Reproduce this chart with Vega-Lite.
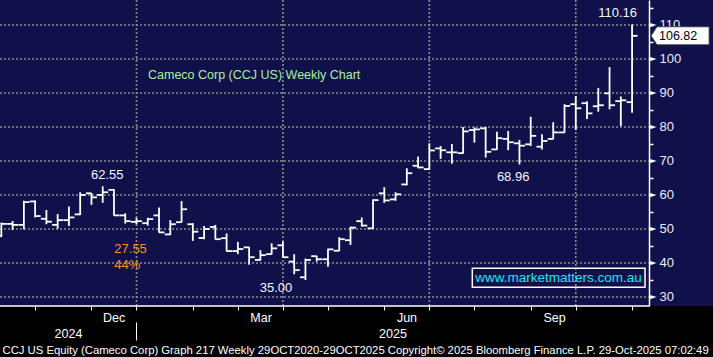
{
  "$schema": "https://vega.github.io/schema/vega-lite/v6.json",
  "width": 713,
  "height": 306,
  "autosize": {"type": "none"},
  "padding": {"left": 0, "top": 0, "right": 0, "bottom": 51},
  "background": "#000000",
  "view": {"fill": "#10104a", "stroke": null},
  "config": {"font": "Liberation Sans", "axis": {"labelFont": "Liberation Sans", "titleFont": "Liberation Sans"}},
  "datasets": {
    "ohlc": [
      {"d": "2024-10-04", "o": 48.0, "h": 51.9, "l": 47.6, "c": 51.5},
      {"d": "2024-10-11", "o": 51.5, "h": 52.35, "l": 49.7, "c": 51.2},
      {"d": "2024-10-18", "o": 51.2, "h": 58.3, "l": 49.9, "c": 57.9},
      {"d": "2024-10-25", "o": 58.1, "h": 58.4, "l": 53.4, "c": 53.8},
      {"d": "2024-11-01", "o": 53.0, "h": 55.6, "l": 51.4, "c": 52.15},
      {"d": "2024-11-08", "o": 51.2, "h": 54.4, "l": 50.1, "c": 52.6},
      {"d": "2024-11-15", "o": 52.6, "h": 56.6, "l": 50.9, "c": 53.4},
      {"d": "2024-11-22", "o": 54.3, "h": 60.8, "l": 54.1, "c": 60.0},
      {"d": "2024-11-29", "o": 60.5, "h": 60.6, "l": 57.1, "c": 59.3},
      {"d": "2024-12-06", "o": 60.0, "h": 62.55, "l": 57.7, "c": 60.8},
      {"d": "2024-12-13", "o": 61.5, "h": 61.7, "l": 53.9, "c": 54.0},
      {"d": "2024-12-20", "o": 54.0, "h": 54.6, "l": 51.6, "c": 52.3},
      {"d": "2024-12-27", "o": 52.1, "h": 53.3, "l": 51.4, "c": 52.3},
      {"d": "2025-01-03", "o": 51.7, "h": 53.3, "l": 51.0, "c": 52.9},
      {"d": "2025-01-10", "o": 54.0, "h": 56.3, "l": 48.9, "c": 49.0},
      {"d": "2025-01-17", "o": 48.4, "h": 52.6, "l": 48.2, "c": 51.4},
      {"d": "2025-01-24", "o": 52.0, "h": 58.2, "l": 51.9, "c": 55.8},
      {"d": "2025-01-31", "o": 51.4, "h": 51.7, "l": 46.5, "c": 49.2},
      {"d": "2025-02-07", "o": 47.35, "h": 50.9, "l": 47.0, "c": 50.0},
      {"d": "2025-02-14", "o": 50.6, "h": 51.2, "l": 46.9, "c": 47.0},
      {"d": "2025-02-21", "o": 47.3, "h": 48.7, "l": 43.4, "c": 43.5},
      {"d": "2025-02-28", "o": 43.5, "h": 46.2, "l": 42.6, "c": 44.1},
      {"d": "2025-03-07", "o": 44.6, "h": 44.7, "l": 39.5, "c": 41.7},
      {"d": "2025-03-14", "o": 40.9, "h": 43.8, "l": 40.7, "c": 42.3},
      {"d": "2025-03-21", "o": 42.6, "h": 45.8, "l": 42.5, "c": 44.3},
      {"d": "2025-03-28", "o": 45.2, "h": 46.3, "l": 41.6, "c": 41.7},
      {"d": "2025-04-04", "o": 40.4, "h": 42.6, "l": 36.7, "c": 37.9},
      {"d": "2025-04-11", "o": 35.8, "h": 41.3, "l": 35.0, "c": 40.9},
      {"d": "2025-04-18", "o": 42.0, "h": 42.1, "l": 40.4, "c": 41.1},
      {"d": "2025-04-25", "o": 41.1, "h": 44.2, "l": 38.9, "c": 44.0},
      {"d": "2025-05-02", "o": 43.6, "h": 47.6, "l": 43.5, "c": 47.0},
      {"d": "2025-05-09", "o": 46.7, "h": 50.7, "l": 45.3, "c": 50.4},
      {"d": "2025-05-16", "o": 52.3, "h": 53.4, "l": 50.7, "c": 51.0},
      {"d": "2025-05-23", "o": 50.2, "h": 58.7, "l": 50.0, "c": 58.5},
      {"d": "2025-05-30", "o": 60.5, "h": 62.3, "l": 57.7, "c": 58.4},
      {"d": "2025-06-06", "o": 58.7, "h": 60.8, "l": 58.3, "c": 60.2},
      {"d": "2025-06-13", "o": 63.1, "h": 67.85, "l": 62.85, "c": 66.4},
      {"d": "2025-06-20", "o": 68.6, "h": 71.3, "l": 67.85, "c": 68.1},
      {"d": "2025-06-27", "o": 67.6, "h": 75.2, "l": 67.5, "c": 73.1},
      {"d": "2025-07-04", "o": 73.7, "h": 74.4, "l": 70.6, "c": 73.15},
      {"d": "2025-07-11", "o": 72.55, "h": 75.0, "l": 69.2, "c": 72.55},
      {"d": "2025-07-18", "o": 72.3, "h": 80.0, "l": 72.15, "c": 78.7},
      {"d": "2025-07-25", "o": 79.1, "h": 79.9, "l": 75.4, "c": 79.3},
      {"d": "2025-08-01", "o": 79.6, "h": 80.0, "l": 71.0, "c": 72.7},
      {"d": "2025-08-08", "o": 73.4, "h": 78.6, "l": 73.2, "c": 76.7},
      {"d": "2025-08-15", "o": 76.5, "h": 78.8, "l": 73.2, "c": 75.5},
      {"d": "2025-08-22", "o": 75.2, "h": 76.2, "l": 68.96, "c": 74.5},
      {"d": "2025-08-29", "o": 74.9, "h": 83.0, "l": 74.4, "c": 77.4},
      {"d": "2025-09-05", "o": 74.2, "h": 77.85, "l": 73.4, "c": 75.9},
      {"d": "2025-09-12", "o": 76.5, "h": 81.4, "l": 76.4, "c": 78.4},
      {"d": "2025-09-19", "o": 78.4, "h": 86.7, "l": 78.3, "c": 86.2},
      {"d": "2025-09-26", "o": 86.7, "h": 89.1, "l": 79.1, "c": 85.5},
      {"d": "2025-10-03", "o": 87.0, "h": 87.6, "l": 82.35, "c": 84.0},
      {"d": "2025-10-10", "o": 86.1, "h": 91.5, "l": 84.5, "c": 86.4},
      {"d": "2025-10-17", "o": 89.9, "h": 97.6, "l": 85.2, "c": 86.4},
      {"d": "2025-10-24", "o": 87.6, "h": 89.0, "l": 80.3, "c": 87.85},
      {"d": "2025-10-31", "o": 87.3, "h": 110.16, "l": 84.2, "c": 106.82}
    ],
    "hgrid": [{"v": 30}, {"v": 40}, {"v": 50}, {"v": 60}, {"v": 70}, {"v": 80}, {"v": 90}, {"v": 100}, {"v": 110}],
    "vgrid": [{"d": "2024-12-27"}, {"d": "2025-03-28"}, {"d": "2025-06-27"}, {"d": "2025-09-26"}]
  },
  "resolve": {"axis": {"x": "independent", "y": "independent"}},
  "layer": [
    {
      "data": {"name": "hgrid"},
      "mark": {"type": "rule", "color": "#8c8c8c", "strokeWidth": 1.6, "strokeDash": [2, 2]},
      "encoding": {
        "y": {"field": "v", "type": "quantitative", "scale": {"domain": [27.35, 117.35], "nice": false, "zero": false}, "axis": null},
        "x": {"datum": {"year": 2024, "month": 10, "date": 3, "hours": 4, "utc": true}, "type": "temporal", "scale": {"type": "utc", "nice": false, "domain": [{"year": 2024, "month": 10, "date": 3, "hours": 4, "utc": true}, {"year": 2025, "month": 12, "date": 20, "hours": 7, "utc": true}]}, "axis": null},
        "x2": {"datum": {"year": 2025, "month": 11, "date": 10, "hours": 14, "utc": true}}
      }
    },
    {
      "data": {"name": "vgrid"},
      "mark": {"type": "rule", "color": "#8c8c8c", "strokeWidth": 1.6, "strokeDash": [2, 2]},
      "encoding": {
        "x": {"field": "d", "type": "temporal", "scale": {"type": "utc", "nice": false, "domain": [{"year": 2024, "month": 10, "date": 3, "hours": 4, "utc": true}, {"year": 2025, "month": 12, "date": 20, "hours": 7, "utc": true}]}, "axis": null}
      }
    },
    {
      "data": {"values": [{}]},
      "mark": {"type": "rule", "color": "#ffffff", "strokeWidth": 1.5},
      "encoding": {
        "y": {"datum": 27.35, "type": "quantitative", "scale": {"domain": [27.35, 117.35], "nice": false, "zero": false}, "axis": null},
        "x": {"datum": {"year": 2024, "month": 10, "date": 3, "hours": 4, "utc": true}, "type": "temporal", "scale": {"type": "utc", "nice": false, "domain": [{"year": 2024, "month": 10, "date": 3, "hours": 4, "utc": true}, {"year": 2025, "month": 12, "date": 20, "hours": 7, "utc": true}]}, "axis": null},
        "x2": {"datum": {"year": 2025, "month": 11, "date": 10, "hours": 14, "utc": true}}
      }
    },
    {
      "data": {"name": "ohlc"},
      "mark": {"type": "rule", "color": "#ffffff", "strokeWidth": 1.8},
      "encoding": {
        "x": {
          "field": "d", "type": "temporal",
          "scale": {"type": "utc", "nice": false, "domain": [{"year": 2024, "month": 10, "date": 3, "hours": 4, "utc": true}, {"year": 2025, "month": 12, "date": 20, "hours": 7, "utc": true}]},
          "axis": {
            "orient": "bottom", "offset": 0, "title": null, "grid": false, "domain": false, "ticks": false, "tickSize": 0,
            "values": [{"year": 2024, "month": 12, "date": 12, "hours": 18, "utc": true}, {"year": 2025, "month": 3, "date": 14, "hours": 2, "utc": true}, {"year": 2025, "month": 6, "date": 12, "hours": 19, "utc": true}, {"year": 2025, "month": 9, "date": 12, "hours": 12, "utc": true}],
            "labelExpr": "utcFormat(datum.value, '%b')",
            "labelColor": "#ffffff", "labelFontSize": 12.5, "labelPadding": 5, "labelBaseline": "top", "labelAlign": "center", "labelFlush": false, "labelOverlap": false
          }
        },
        "y": {
          "field": "l", "type": "quantitative",
          "scale": {"domain": [27.35, 117.35], "nice": false, "zero": false},
          "axis": {
            "orient": "right", "offset": -64, "title": null, "grid": false,
            "values": [30, 40, 50, 60, 70, 80, 90, 100, 110],
            "format": "d",
            "tickSize": 4, "tickColor": "#ffffff", "tickWidth": 1.5,
            "domainColor": "#ffffff", "domainWidth": 1.5,
            "labelColor": "#e8eeff", "labelFontSize": 13, "labelPadding": 6, "labelBaseline": "middle", "labelAlign": "left", "labelFlush": false, "labelOverlap": false, "labelBound": false
          }
        },
        "y2": {"field": "h"}
      }
    },
    {
      "data": {"name": "ohlc"},
      "mark": {"type": "rule", "color": "#ffffff", "strokeWidth": 1.8, "xOffset": -5.5},
      "encoding": {
        "x": {
          "field": "d", "type": "temporal",
          "scale": {"type": "utc", "nice": false, "domain": [{"year": 2024, "month": 10, "date": 3, "hours": 4, "utc": true}, {"year": 2025, "month": 12, "date": 20, "hours": 7, "utc": true}]},
          "axis": {
            "orient": "bottom", "offset": 0, "title": null, "grid": false, "domain": false, "labels": false,
            "tickSize": 4, "tickColor": "#ffffff", "tickWidth": 1,
            "values": [
              {"year": 2024, "month": 10, "date": 25, "utc": true}, {"year": 2024, "month": 11, "date": 29, "utc": true}, {"year": 2024, "month": 12, "date": 27, "utc": true},
              {"year": 2025, "month": 1, "date": 31, "utc": true}, {"year": 2025, "month": 2, "date": 28, "utc": true}, {"year": 2025, "month": 3, "date": 28, "utc": true},
              {"year": 2025, "month": 4, "date": 25, "utc": true}, {"year": 2025, "month": 5, "date": 30, "utc": true}, {"year": 2025, "month": 6, "date": 27, "utc": true},
              {"year": 2025, "month": 7, "date": 25, "utc": true}, {"year": 2025, "month": 8, "date": 29, "utc": true}, {"year": 2025, "month": 9, "date": 26, "utc": true},
              {"year": 2025, "month": 10, "date": 31, "utc": true}
            ]
          }
        },
        "x2": {"field": "d"},
        "y": {
          "field": "o", "type": "quantitative", "scale": {"domain": [27.35, 117.35], "nice": false, "zero": false},
          "axis": {
            "orient": "right", "offset": -64, "title": null, "grid": false, "domain": false, "labels": false,
            "values": [35, 45, 55, 65, 75, 85, 95, 105, 115],
            "tickSize": 4, "tickColor": "#ffffff", "tickWidth": 1.5
          }
        }
      }
    },
    {
      "data": {"name": "ohlc"},
      "mark": {"type": "rule", "color": "#ffffff", "strokeWidth": 1.8, "x2Offset": 5.5},
      "encoding": {
        "x": {
          "field": "d", "type": "temporal",
          "scale": {"type": "utc", "nice": false, "domain": [{"year": 2024, "month": 10, "date": 3, "hours": 4, "utc": true}, {"year": 2025, "month": 12, "date": 20, "hours": 7, "utc": true}]},
          "axis": {
            "orient": "bottom", "offset": 16, "grid": false, "domain": false,
            "values": [{"year": 2024, "month": 11, "date": 14, "hours": 10, "utc": true}, {"year": 2024, "month": 12, "date": 27, "utc": true}, {"year": 2025, "month": 6, "date": 4, "hours": 2, "utc": true}],
            "labelExpr": "utcFormat(datum.value, '%m') == '12' ? '' : utcFormat(datum.value, '%Y')",
            "tickSize": 18, "tickColor": "#ffffff", "tickWidth": 1,
            "tickOpacity": {"condition": {"test": "utcFormat(datum.value, '%m') == '12'", "value": 1}, "value": 0},
            "labelPadding": -12.4, "labelColor": "#ffffff", "labelFontSize": 12.5, "labelBaseline": "top", "labelAlign": "center", "labelFlush": false, "labelOverlap": false,
            "title": "CCJ US Equity (Cameco Corp) Graph 217 Weekly 29OCT2020-29OCT2025  Copyright© 2025 Bloomberg Finance L.P.  29-Oct-2025 07:02:49",
            "titleColor": "#ffffff", "titleFontSize": 11.3, "titleFontWeight": "normal", "titleAlign": "left", "titleAnchor": "start", "titleX": 2, "titleY": 31.3, "titleBaseline": "alphabetic"
          }
        },
        "x2": {"field": "d"},
        "y": {"field": "c", "type": "quantitative", "scale": {"domain": [27.35, 117.35], "nice": false, "zero": false}, "axis": null}
      }
    },
    {
      "data": {"name": "hgrid"},
      "mark": {"type": "point", "shape": "M -1 -0.6 L 1 0 L -1 0.6 Z", "size": 58, "filled": true, "color": "#ffffff", "opacity": 1, "xOffset": 3.8},
      "encoding": {
        "y": {"field": "v", "type": "quantitative", "scale": {"domain": [27.35, 117.35], "nice": false, "zero": false}, "axis": null},
        "x": {"datum": {"year": 2025, "month": 11, "date": 10, "hours": 14, "utc": true}, "type": "temporal", "scale": {"type": "utc", "nice": false, "domain": [{"year": 2024, "month": 10, "date": 3, "hours": 4, "utc": true}, {"year": 2025, "month": 12, "date": 20, "hours": 7, "utc": true}]}, "axis": null}
      }
    },
    {
      "data": {"name": "ohlc"},
      "transform": [{"filter": {"field": "c", "equal": 106.82}}],
      "mark": {"type": "point", "shape": "M -1 0 L -0.8 -0.31 L 1 -0.31 L 1 0.31 L -0.8 0.31 Z", "size": 3364, "filled": true, "fill": "#ffffff", "stroke": "#333333", "strokeWidth": 0.8, "opacity": 1, "xOffset": 31},
      "encoding": {
        "y": {"field": "c", "type": "quantitative", "scale": {"domain": [27.35, 117.35], "nice": false, "zero": false}, "axis": null},
        "x": {"datum": {"year": 2025, "month": 11, "date": 10, "hours": 14, "utc": true}, "type": "temporal", "scale": {"type": "utc", "nice": false, "domain": [{"year": 2024, "month": 10, "date": 3, "hours": 4, "utc": true}, {"year": 2025, "month": 12, "date": 20, "hours": 7, "utc": true}]}, "axis": null}
      }
    },
    {
      "data": {"name": "ohlc"},
      "transform": [{"filter": {"field": "c", "equal": 106.82}}],
      "mark": {"type": "text", "color": "#000000", "fontSize": 12.5, "align": "center", "baseline": "middle", "dx": 29},
      "encoding": {
        "text": {"field": "c", "type": "quantitative", "format": ".2f"},
        "y": {"field": "c", "type": "quantitative", "scale": {"domain": [27.35, 117.35], "nice": false, "zero": false}, "axis": null},
        "x": {"datum": {"year": 2025, "month": 11, "date": 10, "hours": 14, "utc": true}, "type": "temporal", "scale": {"type": "utc", "nice": false, "domain": [{"year": 2024, "month": 10, "date": 3, "hours": 4, "utc": true}, {"year": 2025, "month": 12, "date": 20, "hours": 7, "utc": true}]}, "axis": null}
      }
    },
    {
      "data": {"name": "ohlc"},
      "transform": [{"filter": {"field": "h", "equal": 110.16}}],
      "mark": {"type": "text", "color": "#f4f6ff", "fontSize": 13, "align": "center", "baseline": "middle", "dx": -14.5, "dy": -11.5},
      "encoding": {
        "text": {"field": "h", "type": "quantitative", "format": ".2f"},
        "x": {"field": "d", "type": "temporal", "scale": {"type": "utc", "nice": false, "domain": [{"year": 2024, "month": 10, "date": 3, "hours": 4, "utc": true}, {"year": 2025, "month": 12, "date": 20, "hours": 7, "utc": true}]}, "axis": null},
        "y": {"field": "h", "type": "quantitative", "scale": {"domain": [27.35, 117.35], "nice": false, "zero": false}, "axis": null}
      }
    },
    {
      "data": {"name": "ohlc"},
      "transform": [{"filter": {"field": "h", "equal": 62.55}}],
      "mark": {"type": "text", "color": "#f4f6ff", "fontSize": 13, "align": "center", "baseline": "middle", "dx": 4.5, "dy": -11.5},
      "encoding": {
        "text": {"field": "h", "type": "quantitative", "format": ".2f"},
        "x": {"field": "d", "type": "temporal", "scale": {"type": "utc", "nice": false, "domain": [{"year": 2024, "month": 10, "date": 3, "hours": 4, "utc": true}, {"year": 2025, "month": 12, "date": 20, "hours": 7, "utc": true}]}, "axis": null},
        "y": {"field": "h", "type": "quantitative", "scale": {"domain": [27.35, 117.35], "nice": false, "zero": false}, "axis": null}
      }
    },
    {
      "data": {"name": "ohlc"},
      "transform": [{"filter": {"field": "l", "equal": 35.0}}],
      "mark": {"type": "text", "color": "#f4f6ff", "fontSize": 13, "align": "center", "baseline": "middle", "dx": -29.5, "dy": 8},
      "encoding": {
        "text": {"field": "l", "type": "quantitative", "format": ".2f"},
        "x": {"field": "d", "type": "temporal", "scale": {"type": "utc", "nice": false, "domain": [{"year": 2024, "month": 10, "date": 3, "hours": 4, "utc": true}, {"year": 2025, "month": 12, "date": 20, "hours": 7, "utc": true}]}, "axis": null},
        "y": {"field": "l", "type": "quantitative", "scale": {"domain": [27.35, 117.35], "nice": false, "zero": false}, "axis": null}
      }
    },
    {
      "data": {"name": "ohlc"},
      "transform": [{"filter": {"field": "l", "equal": 68.96}}],
      "mark": {"type": "text", "color": "#f4f6ff", "fontSize": 13, "align": "center", "baseline": "middle", "dx": -6.3, "dy": 12},
      "encoding": {
        "text": {"field": "l", "type": "quantitative", "format": ".2f"},
        "x": {"field": "d", "type": "temporal", "scale": {"type": "utc", "nice": false, "domain": [{"year": 2024, "month": 10, "date": 3, "hours": 4, "utc": true}, {"year": 2025, "month": 12, "date": 20, "hours": 7, "utc": true}]}, "axis": null},
        "y": {"field": "l", "type": "quantitative", "scale": {"domain": [27.35, 117.35], "nice": false, "zero": false}, "axis": null}
      }
    },
    {
      "data": {"values": [{}]},
      "mark": {"type": "text", "text": ["27.55", "44%"], "lineHeight": 16, "color": "#f39422", "fontSize": 13, "align": "left", "baseline": "top"},
      "encoding": {
        "x": {"datum": {"year": 2024, "month": 12, "date": 13, "hours": 5, "utc": true}, "type": "temporal", "scale": {"type": "utc", "nice": false, "domain": [{"year": 2024, "month": 10, "date": 3, "hours": 4, "utc": true}, {"year": 2025, "month": 12, "date": 20, "hours": 7, "utc": true}]}, "axis": null},
        "y": {"datum": 45.85, "type": "quantitative", "scale": {"domain": [27.35, 117.35], "nice": false, "zero": false}, "axis": null}
      }
    },
    {
      "data": {"values": [{}]},
      "mark": {"type": "text", "text": "Cameco Corp  (CCJ US) Weekly Chart", "color": "#a8f0a0", "fontSize": 12.5, "align": "left", "baseline": "middle"},
      "encoding": {
        "x": {"datum": {"year": 2025, "month": 1, "date": 3, "hours": 4, "utc": true}, "type": "temporal", "scale": {"type": "utc", "nice": false, "domain": [{"year": 2024, "month": 10, "date": 3, "hours": 4, "utc": true}, {"year": 2025, "month": 12, "date": 20, "hours": 7, "utc": true}]}, "axis": null},
        "y": {"datum": 95.3, "type": "quantitative", "scale": {"domain": [27.35, 117.35], "nice": false, "zero": false}, "axis": null}
      }
    },
    {
      "data": {"values": [{}]},
      "mark": {"type": "rect", "fill": null, "fillOpacity": 0, "stroke": "#ffffff", "strokeWidth": 1.5},
      "encoding": {
        "x": {"datum": {"year": 2025, "month": 7, "date": 23, "hours": 17, "utc": true}, "type": "temporal", "scale": {"type": "utc", "nice": false, "domain": [{"year": 2024, "month": 10, "date": 3, "hours": 4, "utc": true}, {"year": 2025, "month": 12, "date": 20, "hours": 7, "utc": true}]}, "axis": null},
        "x2": {"datum": {"year": 2025, "month": 11, "date": 8, "hours": 1, "utc": true}},
        "y": {"datum": 38.44, "type": "quantitative", "scale": {"domain": [27.35, 117.35], "nice": false, "zero": false}, "axis": null},
        "y2": {"datum": 32.85}
      }
    },
    {
      "data": {"values": [{}]},
      "mark": {"type": "text", "text": "www.marketmatters.com.au", "color": "#19e6f0", "fontSize": 13.5, "align": "center", "baseline": "middle"},
      "encoding": {
        "x": {"datum": {"year": 2025, "month": 9, "date": 15, "hours": 7, "utc": true}, "type": "temporal", "scale": {"type": "utc", "nice": false, "domain": [{"year": 2024, "month": 10, "date": 3, "hours": 4, "utc": true}, {"year": 2025, "month": 12, "date": 20, "hours": 7, "utc": true}]}, "axis": null},
        "y": {"datum": 35.6, "type": "quantitative", "scale": {"domain": [27.35, 117.35], "nice": false, "zero": false}, "axis": null}
      }
    }
  ]
}
